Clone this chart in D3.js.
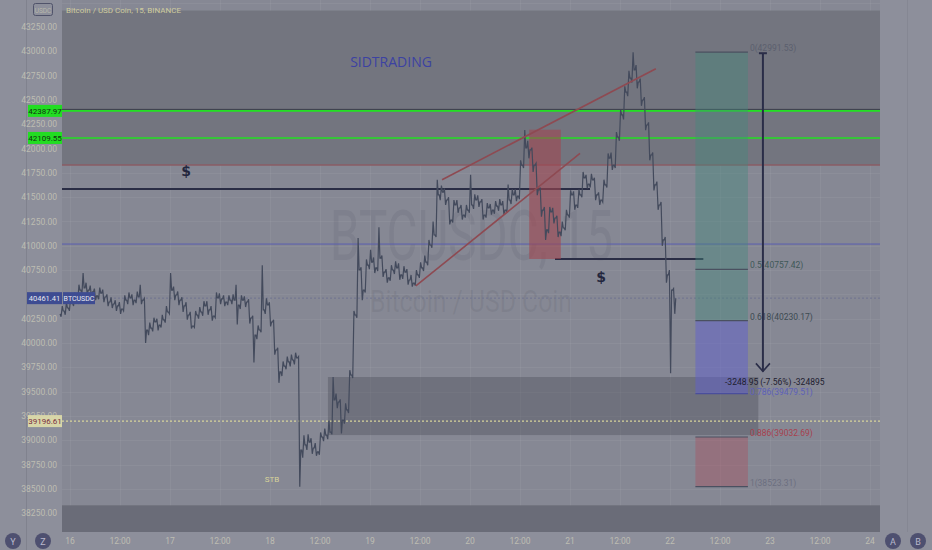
<!DOCTYPE html>
<html><head><meta charset="utf-8">
<script src="https://cdn.jsdelivr.net/npm/d3@7/dist/d3.min.js"></script>
<style>html,body{margin:0;padding:0;background:#8d8f9b;overflow:hidden}svg{display:block}</style>
</head><body><svg id="c" width="932" height="550"></svg>
<script>
// ---- data (hourly bars, first bar = 15th 22:00, hour index relative to 16th 00:00) ----
const startHour = -2;
const closes = [40329,40360,40412,40442,40545,40566,40545,40525,40484,40514,40473,40422,40401,40381,40350,40442,40463,40442,40473,40442,
40134,40154,40216,40185,40237,40319,40545,40494,40442,40381,40288,40175,40288,40319,40381,40340,40278,40463,40453,40422,
40442,40442,40391,40442,40422,40257,40082,40134,40340,40391,40216,39928,39702,39763,39805,39825,39846,38899,38951,38981,
38920,38879,39033,39053,39084,39414,39393,39208,39311,39671,40288,40751,40545,40802,40833,40772,40874,40730,40669,40751,
40772,40700,40730,40648,40617,40700,40772,40833,41008,41111,41523,41553,41471,41265,41420,41389,41317,41368,41420,41471,
41451,41317,41389,41368,41409,41420,41368,41471,41523,41512,41831,42006,41986,41831,41574,41368,41163,41348,41286,41142,
41183,41317,41523,41420,41523,41698,41636,41677,41523,41471,41626,41903,41831,42119,42346,42582,42726,42809,42685,42500,
42243,41934,41626,41420,41060,40700,40545,40461];
const highs = [40380,40420,40460,40520,40600,40720,40620,40590,40560,40570,40550,40500,40470,40440,40420,40490,40520,40500,40530,40600,
40460,40210,40260,40250,40290,40380,40720,40580,40530,40470,40420,40320,40330,40370,40430,40430,40380,40520,40510,40490,
40490,40500,40600,40490,40480,40450,40280,40180,40800,40460,40420,40240,39950,39810,39860,39880,39900,39860,39050,39060,
39020,38970,39080,39120,39200,39650,39480,39420,39380,39720,40330,41080,40780,40860,40960,40880,41190,40900,40760,40800,
40840,40820,40790,40760,40700,40750,40830,40900,41060,41250,41680,41620,41590,41500,41470,41470,41420,41420,41730,41530,
41520,41480,41440,41430,41460,41480,41460,41630,41580,41580,41880,42190,42080,42010,41850,41600,41400,41400,41390,41310,
41250,41370,41570,41560,41580,41760,41730,41740,41700,41550,41680,41950,41960,42170,42400,42640,42800,42990,42860,42720,
42530,42270,41960,41660,41450,41090,40750,40560];
const lows = [40270,40290,40330,40380,40420,40500,40500,40470,40440,40450,40420,40380,40360,40330,40300,40330,40400,40390,40410,40400,
40000,40080,40120,40130,40160,40210,40300,40440,40390,40320,40240,40150,40160,40250,40280,40290,40230,40260,40400,40380,
40390,40400,40190,40350,40370,40200,39800,40040,40110,40300,40170,39880,39590,39660,39730,39760,39780,38520,38820,38900,
38860,38840,38850,38990,39010,39060,39330,39070,39170,39280,39640,40260,40440,40520,40760,40720,40740,40680,40620,40640,
40710,40650,40660,40600,40580,40590,40670,40740,40800,40980,41090,41470,41420,41220,41240,41340,41270,41290,41340,41380,
41400,41270,41290,41320,41330,41360,41320,41340,41430,41460,41480,41800,41900,41760,41520,41300,41060,41130,41230,41090,
41100,41160,41290,41370,41390,41500,41590,41600,41470,41420,41450,41600,41780,41800,42080,42300,42540,42680,42620,42440,
42190,41880,41570,41370,41000,40620,39690,40300];
const yTicks = [38250,38500,38750,39000,39250,39500,39750,40000,40250,40500,40750,41000,41250,41500,41750,42000,42250,42500,42750,43000,43250];
const yTicksHidden = [40500];
const xTickHours = [0,12,24,36,48,60,72,84,96,108,120,132,144,156,168,180,192];
const xTickLabels = ["16","12:00","17","12:00","18","12:00","19","12:00","20","12:00","21","12:00","22","12:00","23","12:00","24"];
const fibRatios = [0,0.5,0.618,0.786,0.886,1];
const fibPrices = [42991.53,40757.42,40230.17,39479.51,39032.69,38523.31];
const fibColors = ["#5b5f6e","#3f5858","#3d4a52","#5c60b8","#a8404e","#6c6f80"];
const greenLevels = [42387.97,42109.55];
const greenLabels = ["42387.97","42109.55"];
const lastPrice = 40461.41;
const yellowLevel = 39196.61;
const topZone = [43420,41831];
const bottomZone = [38330,38000];
const demandZone = [39650,39053];
const midLevel = 41018;
const resistLevel = 41584;
const supportLevel = 40864;
const redBox = {h0:110.2,h1:117.8,p0:42195,p1:40864};
const wedgeUpper = [[89.3,41680],[140.6,42821]];
const wedgeLower = [[83.0,40587],[122.4,41951]];
const levelLines = {resistEndH:124.8, supportStartH:116.4, supportEndH:152.0, demandStartH:61.9, demandEndH:165.2};
const fibBox = {h0:150.1,h1:162.7};
const arrowH = 166.3;

// ---- scales ----
const svg = d3.select("#c");
const X0 = 62, X1 = 880, YB = 532;
const x = d3.scaleLinear().domain([0,192]).range([70,870]);
const y = d3.scaleLinear().domain([38000,43500]).range([343+8*24.3, 343-14*24.3]);

// background panels
svg.append("rect").attr("x",0).attr("y",0).attr("width",932).attr("height",550).attr("fill","#8d8f9b");
svg.append("rect").attr("x",X0).attr("y",0).attr("width",X1-X0).attr("height",YB).attr("fill","#868894");
svg.append("line").attr("x1",26.5).attr("x2",26.5).attr("y1",0).attr("y2",550).attr("stroke","#80828e");
svg.append("line").attr("x1",907.5).attr("x2",907.5).attr("y1",0).attr("y2",532).attr("stroke","#858793");

// grid
const g = svg.append("g");
g.selectAll("line.h").data(yTicks.concat([43500])).join("line").attr("x1",X0).attr("x2",X1)
 .attr("y1",d=>Math.round(y(d))+0.5).attr("y2",d=>Math.round(y(d))+0.5).attr("stroke","rgba(255,255,255,0.05)");
g.selectAll("line.v").data(xTickHours).join("line").attr("y1",0).attr("y2",YB)
 .attr("x1",d=>Math.round(x(d))+0.5).attr("x2",d=>Math.round(x(d))+0.5).attr("stroke","rgba(255,255,255,0.05)");

// zones
svg.append("rect").attr("x",X0).attr("width",X1-X0).attr("y",y(topZone[0])).attr("height",y(topZone[1])-y(topZone[0])).attr("fill","#73757f");
svg.append("line").attr("x1",X0).attr("x2",X1).attr("y1",y(topZone[1])).attr("y2",y(topZone[1])).attr("stroke","#8a5c64").attr("stroke-width",1.5);
svg.append("rect").attr("x",X0).attr("width",X1-X0).attr("y",y(bottomZone[0])).attr("height",YB-y(bottomZone[0])).attr("fill","#6a6c78");
svg.append("rect").attr("x",x(levelLines.demandStartH)).attr("width",x(levelLines.demandEndH)-x(levelLines.demandStartH))
 .attr("y",y(demandZone[0])).attr("height",y(demandZone[1])-y(demandZone[0])).attr("fill","rgba(70,72,84,0.35)");

// watermark
svg.append("text").attr("x",330).attr("y",260).attr("font-family","Roboto, sans-serif")
 .attr("font-size",70).attr("textLength",283).attr("lengthAdjust","spacingAndGlyphs").attr("fill","rgba(70,72,90,0.12)").text("BTCUSDC, 15");
svg.append("text").attr("x",370).attr("y",312).attr("font-family","Roboto, sans-serif")
 .attr("font-size",31).attr("textLength",202).attr("lengthAdjust","spacingAndGlyphs").attr("fill","rgba(70,72,90,0.12)").text("Bitcoin / USD Coin");

// horizontal levels
svg.append("line").attr("x1",X0).attr("x2",X1).attr("y1",y(midLevel)).attr("y2",y(midLevel)).attr("stroke","#5a5db0").attr("stroke-width",1);
svg.append("line").attr("x1",X0).attr("x2",X1).attr("y1",y(lastPrice)).attr("y2",y(lastPrice)).attr("stroke","#6f7490").attr("stroke-dasharray","2,2");
svg.append("line").attr("x1",X0).attr("x2",X1).attr("y1",y(yellowLevel)).attr("y2",y(yellowLevel)).attr("stroke","#d8d49a").attr("stroke-width",1.3).attr("stroke-dasharray","2,2");
greenLevels.forEach((p,i)=>{
  if(i===0) svg.append("line").attr("x1",X0).attr("x2",X1).attr("y1",y(p)-1.5).attr("y2",y(p)-1.5).attr("stroke","#3a3d4a").attr("stroke-width",1);
  svg.append("line").attr("x1",X0).attr("x2",X1).attr("y1",y(p)).attr("y2",y(p)).attr("stroke","#22e022").attr("stroke-width",1.6);
});
svg.append("line").attr("x1",X0).attr("x2",x(levelLines.resistEndH)).attr("y1",y(resistLevel)).attr("y2",y(resistLevel)).attr("stroke","#2a2d45").attr("stroke-width",2);
svg.append("line").attr("x1",x(levelLines.supportStartH)).attr("x2",x(levelLines.supportEndH)).attr("y1",y(supportLevel)).attr("y2",y(supportLevel)).attr("stroke","#2a2d45").attr("stroke-width",2);

// red box
svg.append("rect").attr("x",x(redBox.h0)).attr("width",x(redBox.h1)-x(redBox.h0)).attr("y",y(redBox.p0)).attr("height",y(redBox.p1)-y(redBox.p0))
 .attr("fill","rgba(160,70,80,0.6)");

// fib box
const fx0 = x(fibBox.h0), fx1 = x(fibBox.h1);
svg.append("rect").attr("x",fx0).attr("width",fx1-fx0).attr("y",y(fibPrices[0])).attr("height",y(fibPrices[2])-y(fibPrices[0])).attr("fill","rgba(70,135,125,0.42)");
svg.append("rect").attr("x",fx0).attr("width",fx1-fx0).attr("y",y(fibPrices[2])).attr("height",y(fibPrices[3])-y(fibPrices[2])).attr("fill","rgba(95,95,205,0.5)");
svg.append("rect").attr("x",fx0).attr("width",fx1-fx0).attr("y",y(fibPrices[4])).attr("height",y(fibPrices[5])-y(fibPrices[4])).attr("fill","rgba(170,80,95,0.42)");
fibPrices.forEach((p,i)=>{
  svg.append("line").attr("x1",fx0).attr("x2",fx1).attr("y1",y(p)).attr("y2",y(p)).attr("stroke",i===3?"#4a4e9c":"#4a5060").attr("stroke-width",1.2);
  svg.append("text").attr("x",fx1+2).attr("y",y(p)-(i===3?-1:1)).attr("font-family","Roboto, sans-serif").attr("font-size",8.5)
   .attr("fill",fibColors[i]).text(fibRatios[i]+"("+p.toFixed(2)+")");
});

// price bars (hourly, drawn as a dense zigzag)
let pts = [];
closes.forEach((c,i)=>{
  const h = startHour + i;
  const o = i>0 ? closes[i-1] : 40300;
  const cx = x(h);
  const first = c>=o ? lows[i] : highs[i];
  const second = c>=o ? highs[i] : lows[i];
  pts.push([cx-1.6,y(o)],[cx-0.6,y(first)],[cx+0.6,y(second)],[cx+1.6,y(c)]);
});
svg.append("path").attr("d",d3.line()(pts)).attr("fill","none").attr("stroke","#434a5c").attr("stroke-width",1.2);

// wedge
[wedgeUpper, wedgeLower].forEach(w=>{
  svg.append("line").attr("x1",x(w[0][0])).attr("y1",y(w[0][1])).attr("x2",x(w[1][0])).attr("y2",y(w[1][1])).attr("stroke","#8e4a52").attr("stroke-width",1.6);
});

// arrow
const ax = x(arrowH);
svg.append("line").attr("x1",ax).attr("x2",ax).attr("y1",y(fibPrices[0])+1).attr("y2",y(39708)).attr("stroke","#2a2d48").attr("stroke-width",2);
svg.append("line").attr("x1",ax-4).attr("x2",ax+4).attr("y1",y(fibPrices[0])+1).attr("y2",y(fibPrices[0])+1).attr("stroke","#2a2d48").attr("stroke-width",2);
svg.append("path").attr("d",`M${ax-7},${y(39708)-8}L${ax},${y(39708)}L${ax+7},${y(39708)-8}`).attr("fill","none").attr("stroke","#2a2d48").attr("stroke-width",1.6);
svg.append("text").attr("x",725).attr("y",y(39708)+14).attr("font-family","Roboto, sans-serif").attr("font-size",8.5).attr("fill","#1e2030")
 .text("-3248.95 (-7.56%) -324895");

// texts
svg.append("text").attr("x",391).attr("y",67).attr("text-anchor","middle").attr("font-family","'Open Sans', sans-serif").attr("font-size",14)
 .attr("fill","#3c42a2").text("SIDTRADING");
svg.append("text").attr("x",186).attr("y",176).attr("text-anchor","middle").attr("font-family","'DejaVu Sans', sans-serif").attr("font-size",14).attr("font-weight","bold")
 .attr("fill","#23263d").text("$");
svg.append("text").attr("x",601).attr("y",282).attr("text-anchor","middle").attr("font-family","'DejaVu Sans', sans-serif").attr("font-size",14).attr("font-weight","bold")
 .attr("fill","#23263d").text("$");
svg.append("text").attr("x",272).attr("y",482).attr("text-anchor","middle").attr("font-family","Roboto, sans-serif").attr("font-size",8)
 .attr("fill","#d8d49a").text("STB");
svg.append("text").attr("x",66).attr("y",13).attr("font-family","Roboto, sans-serif").attr("font-size",8)
 .attr("fill","#cfcc9e").text("Bitcoin / USD Coin, 15, BINANCE");

// y axis labels (labels fully covered by the price tag are not drawn)
svg.selectAll("text.yl").data(yTicks.filter(d=>!yTicksHidden.includes(d))).join("text").attr("x",57).attr("y",d=>y(d)+3).attr("text-anchor","end")
 .attr("font-family","Roboto, sans-serif").attr("font-size",8.5).attr("fill","#bdbdb2").text(d=>d.toFixed(2));
svg.append("rect").attr("x",33.5).attr("y",3.5).attr("width",19).attr("height",12).attr("rx",2).attr("fill","#8d8f9b").attr("stroke","#50536a");
svg.append("text").attr("x",43).attr("y",12.5).attr("text-anchor","middle").attr("font-family","Roboto, sans-serif").attr("font-size",6.5)
 .attr("fill","#b8b8ac").text("USDC");

// price labels on axis
greenLevels.forEach((p,i)=>{
  svg.append("rect").attr("x",28).attr("y",y(p)-6).attr("width",34).attr("height",12).attr("fill","#22dd22");
  svg.append("text").attr("x",45).attr("y",y(p)+3).attr("text-anchor","middle").attr("font-family","Roboto, sans-serif").attr("font-size",8).attr("fill","#113311").text(greenLabels[i]);
});
svg.append("rect").attr("x",27).attr("y",y(lastPrice)-6).attr("width",35).attr("height",12).attr("fill","#3e4c92");
svg.append("text").attr("x",44.5).attr("y",y(lastPrice)+3).attr("text-anchor","middle").attr("font-family","Roboto, sans-serif").attr("font-size",7.5).attr("fill","#e8e8f0").text(lastPrice.toFixed(2));
svg.append("rect").attr("x",63).attr("y",y(lastPrice)-6).attr("width",32).attr("height",12).attr("fill","#3e4c92");
svg.append("text").attr("x",79).attr("y",y(lastPrice)+3).attr("text-anchor","middle").attr("font-family","Roboto, sans-serif").attr("font-size",7).attr("fill","#e8e8f0").text("BTCUSDC");
svg.append("rect").attr("x",28).attr("y",y(yellowLevel)-6).attr("width",34).attr("height",12).attr("fill","#d8d6a8");
svg.append("text").attr("x",45).attr("y",y(yellowLevel)+3).attr("text-anchor","middle").attr("font-family","Roboto, sans-serif").attr("font-size",8).attr("fill","#7a2f40").text(yellowLevel.toFixed(2));

// x axis labels
svg.selectAll("text.xl").data(xTickHours).join("text").attr("x",d=>x(d)).attr("y",544).attr("text-anchor","middle")
 .attr("font-family","Roboto, sans-serif").attr("font-size",8.5).attr("fill","#bdbdb2").text((d,i)=>xTickLabels[i]);

// buttons
[[13,"Y"],[43,"Z"],[893,"A"],[918,"B"]].forEach(b=>{
  svg.append("circle").attr("cx",b[0]).attr("cy",541).attr("r",8).attr("fill","#4e5070");
  svg.append("text").attr("x",b[0]).attr("y",544.5).attr("text-anchor","middle").attr("font-family","Roboto, sans-serif").attr("font-size",9).attr("fill","#b8b8cc").text(b[1]);
});
</script></body></html>
